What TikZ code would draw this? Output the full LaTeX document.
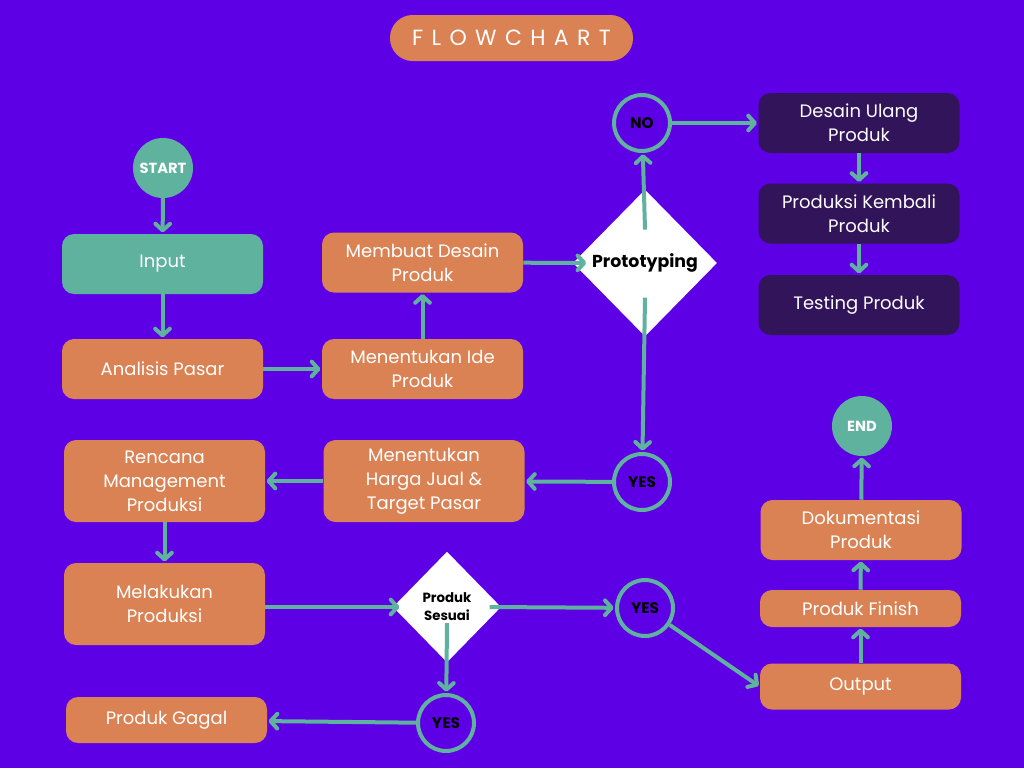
\documentclass[tikz,border=0pt]{standalone}
\usepackage{fontspec}
\setmainfont{Poppins}
\usetikzlibrary{arrows.meta,shapes.geometric}
\definecolor{bgc}{RGB}{94,0,230}
\definecolor{orng}{RGB}{218,130,84}
\definecolor{tealc}{RGB}{95,178,158}
\definecolor{darkc}{RGB}{50,20,90}
\begin{document}
\begin{tikzpicture}[x=0.75pt,y=-0.75pt,
  box/.style={rounded corners=9pt, minimum width=150.75pt, minimum height=45pt, text=white, align=center, inner sep=0pt, font=\fontsize{13.5}{18}\selectfont},
  obox/.style={box, fill=orng},
  dbox/.style={box, fill=darkc},
  tbox/.style={box, fill=tealc},
  ring/.style={circle, draw=tealc, line width=3pt, minimum size=42pt, inner sep=0pt, text=black, font=\bfseries\fontsize{11.5}{12}\selectfont},
  disc/.style={circle, fill=tealc, minimum size=45pt, inner sep=0pt, text=white, font=\bfseries\fontsize{11}{12}\selectfont},
  dia/.style={diamond, fill=white, inner sep=0pt, text=black, align=center},
  arr/.style={draw=tealc, line width=3pt, shorten >=1pt, -{Straight Barb[length=5pt,width=11pt,round]}}
]
\fill[bgc] (0,0) rectangle (1024,768);
\useasboundingbox (0,0) rectangle (1024,768);

% title
\node[fill=orng, rounded corners=17pt, minimum width=182.25pt, minimum height=34.5pt, text=white, inner sep=0pt, font=\fontsize{16.5}{16}\selectfont\addfontfeatures{LetterSpace=38}] (title) at (511.5,38) {FLOWCHART\hspace{-6pt}};

% nodes
\node[disc] (start) at (163,168) {START};
\node[tbox] (input) at (162.5,264) {Input};
\node[obox] (analisis) at (162.5,369) {Analisis Pasar};
\node[obox] (ide) at (422.5,369) {Menentukan Ide\\Produk};
\node[obox] (membuat) at (422.5,262.5) {Membuat Desain\\Produk};
\node[dia, minimum width=108pt, minimum height=110pt, font=\bfseries\fontsize{13}{15}\selectfont] (proto) at (645,263) {Prototyping};
\node[ring] (no) at (642,123) {NO};
\node[dbox] (ulang) at (859,123) {Desain Ulang\\Produk};
\node[dbox] (kembali) at (859,213.5) {Produksi Kembali\\Produk};
\node[dbox] (testing) at (859,305) {Testing Produk};
\node[ring] (yesm) at (642,482) {YES};
\node[obox, minimum height=61.5pt] (harga) at (424,481) {Menentukan\\Harga Jual \&\\Target Pasar};
\node[obox, minimum height=61.5pt] (rencana) at (164.5,481) {Rencana\\Management\\Produksi};
\node[obox, minimum height=61.5pt] (melakukan) at (164.5,604) {Melakukan\\Produksi};
\node[dia, minimum width=81pt, minimum height=83pt, font=\bfseries\fontsize{10}{13.5}\selectfont] (sesuai) at (447,607) {Produk\\Sesuai};
\node[ring] (yesr) at (645,608) {YES};
\node[ring] (yesb) at (446,723) {YES};
\node[obox, minimum height=34.5pt] (gagal) at (166.5,720) {Produk Gagal};
\node[obox, minimum height=34.5pt] (output) at (860.5,686.5) {Output};
\node[obox, minimum height=27.75pt] (finish) at (860.5,608.5) {Produk Finish};
\node[obox] (doku) at (861,530) {Dokumentasi\\Produk};
\node[disc] (end) at (862,426) {END};

% connectors
\draw[arr] ([yshift=-7pt]start.center) -- (input);
\draw[arr] (input) -- (analisis);
\draw[arr] (analisis) -- (ide);
\draw[arr] (ide) -- (membuat);
\draw[arr, shorten >=-10pt] (membuat) -- (proto);
\draw[arr] ([yshift=25pt]proto.center) -- (no);
\draw[arr] (no) -- (ulang);
\draw[arr] (ulang) -- (kembali);
\draw[arr] (kembali) -- (testing);
\draw[arr] ([yshift=-26pt]proto.center) -- (yesm);
\draw[arr] (yesm) -- (harga);
\draw[arr] (harga) -- (rencana);
\draw[arr] (rencana) -- (melakukan);
\draw[arr, shorten >=-5pt] (melakukan.east |- sesuai.west) -- (sesuai.west);
\draw[arr] ([xshift=32pt]sesuai.center) -- (yesr);
\draw[arr] ([yshift=-12pt]sesuai.center) -- (yesb);
\draw[arr] (yesb) -- (gagal);
\draw[arr] (yesr) -- (output.west);
\draw[arr] (output) -- (finish);
\draw[arr] (finish) -- (doku);
\draw[arr] (doku) -- (end);
\end{tikzpicture}
\end{document}
